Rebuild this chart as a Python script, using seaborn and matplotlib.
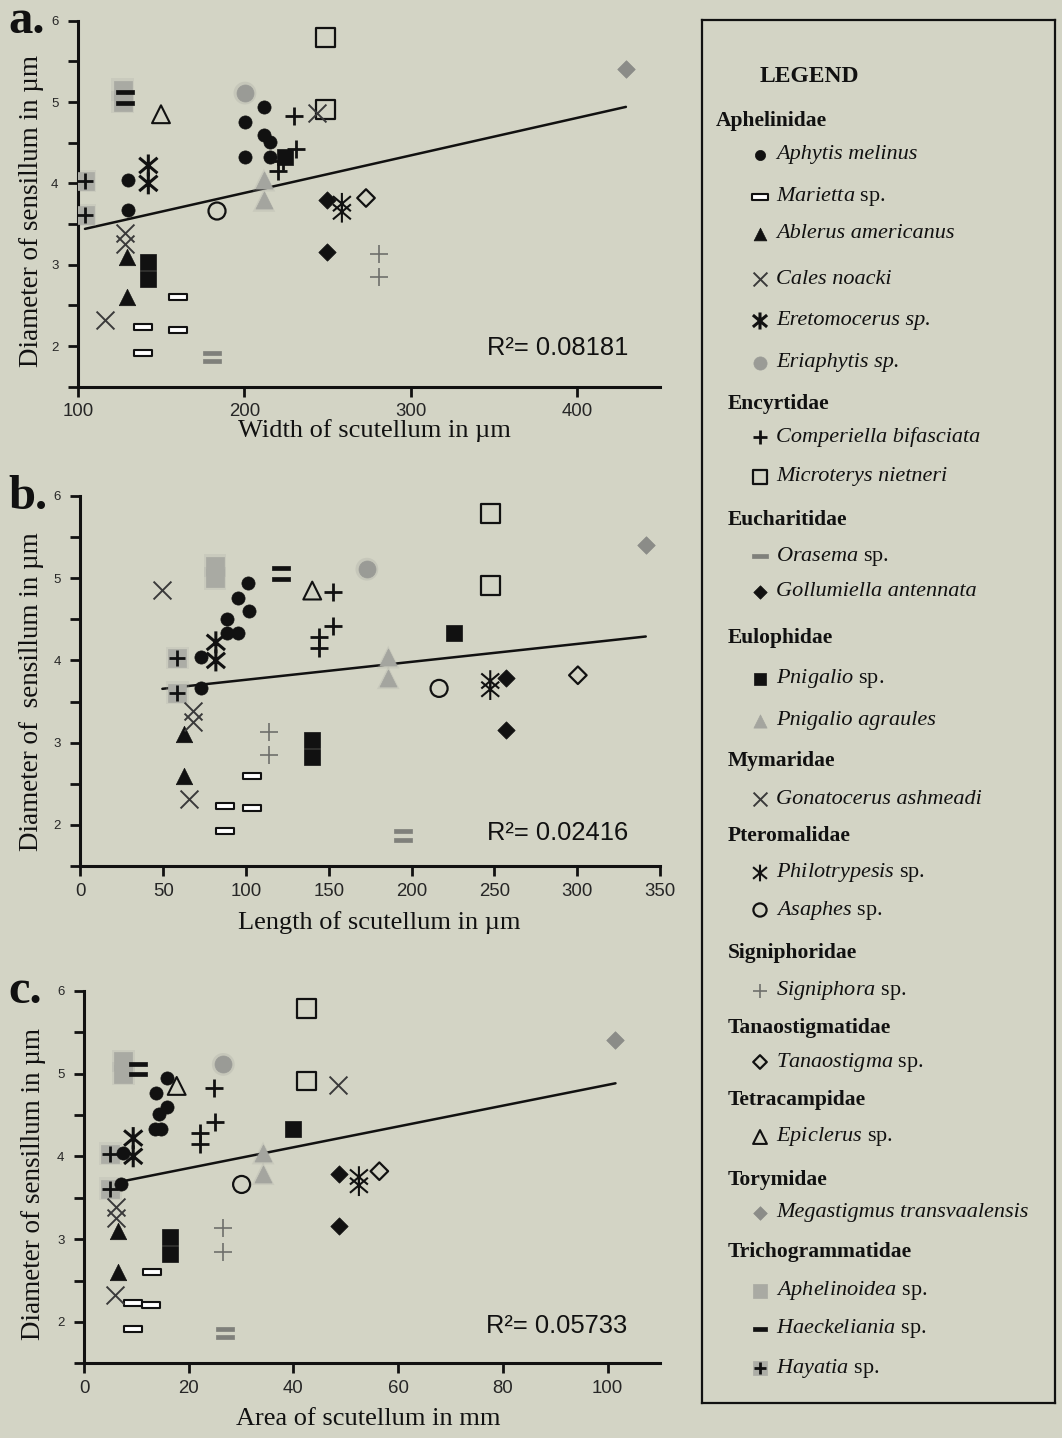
import numpy as np
import pandas as pd
import seaborn as sns
import matplotlib.pyplot as plt
from matplotlib.path import Path
from matplotlib.ticker import MultipleLocator

# ---------------------------------------------------------------
# data (one row per specimen)
# ---------------------------------------------------------------
point_species = (
    ["Aphytis melinus"] * 8 + ["Marietta sp."] * 4 + ["Ablerus americanus"] * 2
    + ["Cales noacki"] * 3 + ["Eretomocerus sp."] * 2 + ["Eriaphytis sp."]
    + ["Comperiella bifasciata"] * 4 + ["Microterys nietneri"] * 2
    + ["Orasema sp."] * 2 + ["Gollumiella antennata"] * 2
    + ["Pnigalio sp."] * 3 + ["Pnigalio agraules"] * 2
    + ["Gonatocerus ashmeadi"] + ["Philotrypesis sp."] * 2 + ["Asaphes sp."]
    + ["Signiphora sp."] * 2 + ["Tanaostigma sp."] + ["Epiclerus sp."]
    + ["Megastigmus transvaalensis"] + ["Aphelinoidea sp."] * 2
    + ["Haeckeliania sp."] * 2 + ["Hayatia sp."] * 2
)
diameter = [
    4.04, 3.67, 4.76, 4.33, 4.94, 4.60, 4.51, 4.33,
    2.60, 2.23, 2.20, 1.92,
    3.10, 2.60,
    3.39, 3.25, 2.32,
    4.22, 4.00,
    5.11,
    4.83, 4.42, 4.28, 4.15,
    5.79, 4.91,
    1.92, 1.82,
    3.79, 3.16,
    3.03, 2.82, 4.33,
    4.04, 3.79,
    4.86,
    3.75, 3.65,
    3.66,
    3.13, 2.85,
    3.82,
    4.85,
    5.40,
    5.15, 5.00,
    5.12, 4.99,
    4.03, 3.61,
]
width = [
    130, 130, 200.4, 200.4, 211.8, 211.8, 215.5, 215.5,
    160, 139, 160, 139,
    129.5, 129.5,
    128.3, 128.3, 116.2,
    142.3, 142.3,
    200.4,
    230, 231, 223, 220.3,
    249.1, 249.1,
    180.6, 180.6,
    249.7, 249.7,
    142.1, 142.1, 224.5,
    211.8, 211.8,
    243.7,
    258.7, 258.7,
    183.6,
    281, 281,
    273.2,
    149.9,
    429.5,
    127, 127,
    128.3, 128.3,
    104.2, 104.2,
]
length = [
    72.7, 72.7, 95.4, 88.3, 101.4, 101.6, 88.3, 95.0,
    103.4, 87.5, 103.4, 87.5,
    62.6, 62.6,
    67.7, 67.7, 65.6,
    81.8, 81.8,
    173,
    152.5, 152.5, 144, 144,
    247.5, 247.5,
    195, 195,
    257, 257,
    140, 140, 225.9,
    185.9, 185.9,
    49.5,
    247.5, 247.5,
    216.6,
    114, 114,
    300.4,
    140,
    341.4,
    81.3, 81.3,
    121, 121,
    58.6, 58.6,
]
area = [
    7.4, 7.1, 13.7, 13.5, 15.8, 15.8, 14.4, 14.8,
    12.9, 9.4, 12.7, 9.4,
    6.4, 6.4,
    6.2, 6.2, 5.9,
    9.4, 9.4,
    26.6,
    24.8, 25.0, 22.1, 22.1,
    42.5, 42.5,
    27, 27,
    48.7, 48.7,
    16.4, 16.4, 40,
    34.2, 34.2,
    48.5,
    52.5, 52.5,
    30.1,
    26.6, 26.6,
    56.4,
    17.7,
    101.5,
    7.5, 7.5,
    10.4, 10.4,
    5.0, 5.0,
]

# linear trend lines as printed (intercept, slope) and R^2 values
trend_intercept = [2.960, 3.547, 3.606]
trend_slope = [0.004611, 0.00218, 0.01257]
r_squared = ["0.08181", "0.02416", "0.05733"]

families = [
    ("Aphelinidae", ["Aphytis melinus", "Marietta sp.", "Ablerus americanus",
                     "Cales noacki", "Eretomocerus sp.", "Eriaphytis sp."]),
    ("Encyrtidae", ["Comperiella bifasciata", "Microterys nietneri"]),
    ("Eucharitidae", ["Orasema sp.", "Gollumiella antennata"]),
    ("Eulophidae", ["Pnigalio sp.", "Pnigalio agraules"]),
    ("Mymaridae", ["Gonatocerus ashmeadi"]),
    ("Pteromalidae", ["Philotrypesis sp.", "Asaphes sp."]),
    ("Signiphoridae", ["Signiphora sp."]),
    ("Tanaostigmatidae", ["Tanaostigma sp."]),
    ("Tetracampidae", ["Epiclerus sp."]),
    ("Torymidae", ["Megastigmus transvaalensis"]),
    ("Trichogrammatidae", ["Aphelinoidea sp.", "Haeckeliania sp.", "Hayatia sp."]),
]

df = pd.DataFrame({"species": point_species, "diameter": diameter,
                   "width": width, "length": length, "area": area})

# ---------------------------------------------------------------
# marker styles
# ---------------------------------------------------------------
def bar_path(h):
    return Path([(-0.5, -h), (0.5, -h), (0.5, h), (-0.5, h), (-0.5, -h)],
                [Path.MOVETO, Path.LINETO, Path.LINETO, Path.LINETO, Path.CLOSEPOLY])

STAR = Path([(-0.5, -0.42), (0.5, 0.42), (-0.5, 0.42), (0.5, -0.42), (0, -0.6), (0, 0.6)],
            [Path.MOVETO, Path.LINETO, Path.MOVETO, Path.LINETO, Path.MOVETO, Path.LINETO])
BAR_W = bar_path(0.16)
BAR_T = bar_path(0.12)

K = "#111111"
styles = {
    "Aphytis melinus": dict(m="o", s=90, fc=K, ec=K, lw=0.5),
    "Marietta sp.": dict(m=BAR_W, s=185, fc="white", ec=K, lw=1.5),
    "Ablerus americanus": dict(m="^", s=140, fc=K, ec=K, lw=0.5),
    "Cales noacki": dict(m="x", s=165, fc="#3a3a3a", lw=1.4),
    "Eretomocerus sp.": dict(m=STAR, s=250, fc="none", ec=K, lw=2.2),
    "Eriaphytis sp.": dict(m="o", s=150, fc="#9a9b96", ec="#9a9b96", lw=0.5, halo=True),
    "Comperiella bifasciata": dict(m="+", s=150, fc=K, lw=2.0),
    "Microterys nietneri": dict(m="s", s=185, fc="none", ec=K, lw=1.6),
    "Orasema sp.": dict(m=BAR_T, s=185, fc="#7f807b", ec="#7f807b", lw=0.5),
    "Gollumiella antennata": dict(m="D", s=78, fc=K, ec=K, lw=0.5),
    "Pnigalio sp.": dict(m="s", s=145, fc=K, ec=K, lw=0.5),
    "Pnigalio agraules": dict(m="^", s=150, fc="#a4a59f", ec="#a4a59f", lw=0.5, halo=True),
    "Gonatocerus ashmeadi": dict(m="x", s=165, fc="#3a3a3a", lw=1.4),
    "Philotrypesis sp.": dict(m=STAR, s=240, fc="none", ec=K, lw=1.5),
    "Asaphes sp.": dict(m="o", s=150, fc="none", ec=K, lw=1.6),
    "Signiphora sp.": dict(m="+", s=150, fc="#6f706c", lw=1.2),
    "Tanaostigma sp.": dict(m="D", s=80, fc="none", ec=K, lw=1.6),
    "Epiclerus sp.": dict(m="^", s=165, fc="none", ec=K, lw=1.5),
    "Megastigmus transvaalensis": dict(m="D", s=80, fc="#8b8c88", ec="#8b8c88", lw=0.5),
    "Aphelinoidea sp.": dict(m="s", s=150, fc="#a9aaa3", ec="#a9aaa3", lw=0.5, halo=True),
    "Haeckeliania sp.": dict(m=BAR_T, s=150, fc=K, ec=K, lw=0.5),
    "Hayatia sp.": dict(m="+", s=130, fc=K, lw=2.0,
                        under=dict(m="s", s=150, fc="#acada6", ec="#acada6", lw=0.5, halo=True)),
}
species_order = [sp for _, group in families for sp in group]


def draw(ax, x, y, st, scale=1.0, z=3):
    unfilled = st["m"] in ("x", "+")
    kw = dict(marker=st["m"], s=st["s"] * scale, linewidth=st["lw"], zorder=z, legend=False, ax=ax)
    if st.get("halo") and scale == 1.0:
        sns.scatterplot(x=x, y=y, marker=st["m"], s=st["s"] * 1.8, color=st["fc"],
                        edgecolor="none", alpha=0.22, zorder=z - 0.5, legend=False, ax=ax)
    if unfilled:
        sns.scatterplot(x=x, y=y, color=st["fc"], **kw)
    else:
        sns.scatterplot(x=x, y=y, color=st["ec"], facecolor=st["fc"], edgecolor=st["ec"], **kw)


# ---------------------------------------------------------------
# figure
# ---------------------------------------------------------------
BG = "#d3d4c5"
sns.set_theme(style="ticks")
plt.rcParams["font.family"] = ["Liberation Serif", "DejaVu Serif"]
plt.rcParams["mathtext.fontset"] = "custom"
plt.rcParams["mathtext.it"] = "Liberation Serif:italic"
plt.rcParams["mathtext.rm"] = "Liberation Serif"

W, H = 1062, 1438
fig = plt.figure(figsize=(W / 100, H / 100), dpi=100, facecolor=BG)


def px_rect(l, t, r, b):
    return [l / W, 1 - b / H, (r - l) / W, (b - t) / H]


panels = [
    dict(col="width", rect=(78, 20.7, 660, 386.7), xlim=(100, 450), xt=[100, 200, 300, 400],
         xlabel="Width of scutellum in µm", ylabel="Diameter of sensillum in µm",
         letter="a.", lety=33, xl=(0.51, -0.088), yl=(-0.058, 0.48), r2=(0.945, 0.087)),
    dict(col="length", rect=(80.4, 496, 660, 866), xlim=(0, 350), xt=list(range(0, 351, 50)),
         xlabel="Length of scutellum in µm", ylabel="Diameter of  sensillum in µm",
         letter="b.", lety=509, xl=(0.515, -0.122), yl=(-0.063, 0.47), r2=(0.946, 0.070)),
    dict(col="area", rect=(84, 990.7, 660, 1363.3), xlim=(0, 110), xt=list(range(0, 101, 20)),
         xlabel="Area of scutellum in mm", ylabel="Diameter of sensillum in µm",
         letter="c.", lety=1003, xl=(0.493, -0.12), yl=(-0.066, 0.48), r2=(0.944, 0.081)),
]

for i, p in enumerate(panels):
    ax = fig.add_axes(px_rect(*p["rect"]))
    ax.set_facecolor(BG)
    col = p["col"]

    xs = np.array([df[col].min(), df[col].max()])
    sns.lineplot(x=xs, y=trend_intercept[i] + trend_slope[i] * xs, color=K,
                 linewidth=1.8, zorder=2, ax=ax)

    for sp in species_order:
        sub = df[df["species"] == sp]
        st = styles[sp]
        if "under" in st:
            draw(ax, sub[col].values, sub["diameter"].values, st["under"], z=3)
        draw(ax, sub[col].values, sub["diameter"].values, st, z=4)

    ax.set_xlim(*p["xlim"])
    ax.set_ylim(1.5, 6)
    ax.yaxis.set_major_locator(MultipleLocator(1))
    ax.yaxis.set_minor_locator(MultipleLocator(0.5))
    ax.set_xticks(p["xt"])
    ax.set_xticklabels([str(v) for v in p["xt"]], fontfamily="Liberation Sans", fontsize=13.4)
    ax.set_yticks([2, 3, 4, 5, 6])
    ax.set_yticklabels(["2", "3", "4", "5", "6"], fontfamily="Liberation Sans", fontsize=9.5)
    ax.tick_params(axis="x", which="major", length=7, width=2, color=K, pad=5)
    ax.tick_params(axis="y", which="both", length=7, width=2, color=K, pad=7)
    sns.despine(ax=ax)
    for s in ("left", "bottom"):
        ax.spines[s].set_linewidth(2.2)
        ax.spines[s].set_color(K)

    ax.set_xlabel(p["xlabel"], fontsize=19, color=K)
    ax.set_ylabel(p["ylabel"], fontsize=19.5, color=K)
    ax.xaxis.set_label_coords(*p["xl"])
    ax.yaxis.set_label_coords(*p["yl"])

    ax.text(p["r2"][0], p["r2"][1], "R²= " + r_squared[i], transform=ax.transAxes,
            ha="right", va="baseline", fontfamily="Liberation Sans", fontsize=18.4, color=K)

    fig.text(8 / W, 1 - p["lety"] / H, p["letter"], fontsize=35, fontweight="bold",
             va="baseline", ha="left", color=K)

# ---------------------------------------------------------------
# legend box
# ---------------------------------------------------------------
LX0, LY0, LX1, LY1 = 702, 20, 1055, 1403
lax = fig.add_axes(px_rect(LX0, LY0, LX1, LY1))
lax.set_facecolor(BG)
lax.set_xlim(LX0, LX1)
lax.set_ylim(LY1, LY0)
lax.set_xticks([])
lax.set_yticks([])
for s in lax.spines.values():
    s.set_linewidth(1.6)
    s.set_color(K)

row_y = {
    "LEGEND": 77, "Aphelinidae": 121, "Aphytis melinus": 155, "Marietta sp.": 197,
    "Ablerus americanus": 234, "Cales noacki": 279, "Eretomocerus sp.": 321,
    "Eriaphytis sp.": 363, "Encyrtidae": 404, "Comperiella bifasciata": 437,
    "Microterys nietneri": 477, "Eucharitidae": 520, "Orasema sp.": 556,
    "Gollumiella antennata": 592, "Eulophidae": 638, "Pnigalio sp.": 679,
    "Pnigalio agraules": 721, "Mymaridae": 761, "Gonatocerus ashmeadi": 799,
    "Pteromalidae": 836, "Philotrypesis sp.": 873, "Asaphes sp.": 910,
    "Signiphoridae": 953, "Signiphora sp.": 991, "Tanaostigmatidae": 1028,
    "Tanaostigma sp.": 1062, "Tetracampidae": 1100, "Epiclerus sp.": 1137,
    "Torymidae": 1180, "Megastigmus transvaalensis": 1213, "Trichogrammatidae": 1252,
    "Aphelinoidea sp.": 1291, "Haeckeliania sp.": 1329, "Hayatia sp.": 1368,
}
all_italic = {"Eretomocerus sp.", "Eriaphytis sp."}

lax.text(809, row_y["LEGEND"], "LEGEND", fontsize=17, fontweight="bold",
         ha="center", va="center", color=K)
for fam, group in families:
    fx = 716 if fam == "Aphelinidae" else 728
    lax.text(fx, row_y[fam], fam, fontsize=15.5, fontweight="bold",
             ha="left", va="center", color=K)
    for sp in group:
        y = row_y[sp]
        st = styles[sp]
        sc = 0.75 if isinstance(st["m"], Path) and st["m"] is not STAR else 0.6
        if "under" in st:
            draw(lax, [760], [y], st["under"], scale=0.6, z=3)
        draw(lax, [760], [y], st, scale=sc, z=4)
        if sp.endswith(" sp.") and sp not in all_italic:
            label = r"$\mathit{" + sp[:-4] + "}$ sp."
            lax.text(776, y, label, fontsize=16, ha="left", va="center", color=K)
        else:
            lax.text(776, y, sp, fontsize=16, fontstyle="italic",
                     ha="left", va="center", color=K)

lax.set_xlim(LX0, LX1)
lax.set_ylim(LY1, LY0)
lax.set_xlabel("")
lax.set_ylabel("")

fig.savefig("out.png", dpi=100, facecolor=BG)
